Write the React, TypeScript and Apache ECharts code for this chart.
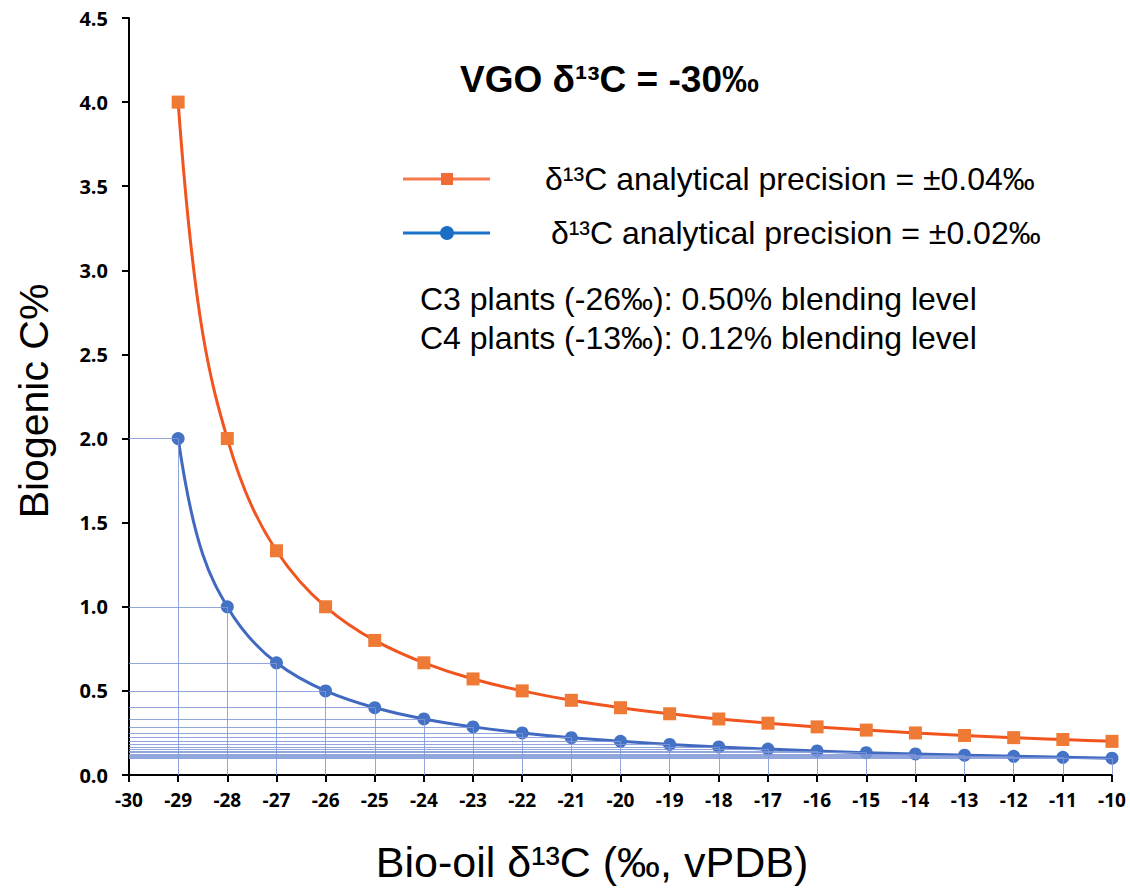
import React, { useEffect, useRef } from "react";
import * as echarts from "echarts";

const xValues = [-29, -28, -27, -26, -25, -24, -23, -22, -21, -20, -19, -18, -17, -16, -15, -14, -13, -12, -11, -10];
const precision004 = [4.0, 2.0, 1.333, 1.0, 0.8, 0.667, 0.571, 0.5, 0.444, 0.4, 0.364, 0.333, 0.308, 0.286, 0.267, 0.25, 0.235, 0.222, 0.211, 0.2];
const precision002 = [2.0, 1.0, 0.667, 0.5, 0.4, 0.333, 0.286, 0.25, 0.222, 0.2, 0.182, 0.167, 0.154, 0.143, 0.133, 0.125, 0.118, 0.111, 0.105, 0.1];

const xMin = -30;
const xMax = -10;
const yMin = 0;
const yMax = 4.5;

const titleText = "VGO δ¹³C = -30‰";
const legend1 = "δ¹³C analytical precision = ±0.04‰";
const legend2 = " δ¹³C analytical precision = ±0.02‰";
const note1 = "C3 plants (-26‰): 0.50% blending level";
const note2 = "C4 plants (-13‰): 0.12% blending level";
const xTitle = "Bio-oil δ¹³C (‰, vPDB)";
const yTitle = "Biogenic C%";

const ORANGE_LINE = "#F2541F";
const ORANGE_MARK = "#EE7A35";
const BLUE_LINE = "#4169C0";
const BLUE_MARK = "#4472C4";
const DROP = "#7F97D8";

// tangents for a smooth curve through the points (harmonic mean of neighbouring secants)
function tangents(xs: number[], ys: number[]): number[] {
  const n = xs.length;
  const d: number[] = [];
  for (let i = 0; i < n - 1; i++) d.push((ys[i + 1] - ys[i]) / (xs[i + 1] - xs[i]));
  const m: number[] = new Array(n).fill(0);
  for (let i = 1; i < n - 1; i++) {
    const a = d[i - 1];
    const b = d[i];
    m[i] = a * b > 0 ? (2 * a * b) / (a + b) : 0;
  }
  m[0] = m[1] !== 0 ? (d[0] * d[0]) / m[1] : d[0];
  m[n - 1] = m[n - 2] !== 0 ? (d[n - 2] * d[n - 2]) / m[n - 2] : d[n - 2];
  return m;
}

function curveSeries(ys: number[], color: string, z: number) {
  const m = tangents(xValues, ys);
  return {
    type: "custom",
    silent: true,
    z,
    data: xValues.map((x, i) => [x, ys[i]]),
    encode: { x: 0, y: 1 },
    renderItem: (params: any, api: any) => {
      const i = params.dataIndex;
      if (i >= xValues.length - 1) return null;
      const x0 = xValues[i];
      const x1 = xValues[i + 1];
      const h = x1 - x0;
      const p0 = api.coord([x0, ys[i]]);
      const c1 = api.coord([x0 + h / 3, ys[i] + (m[i] * h) / 3]);
      const c2 = api.coord([x1 - h / 3, ys[i + 1] - (m[i + 1] * h) / 3]);
      const p1 = api.coord([x1, ys[i + 1]]);
      return {
        type: "bezierCurve",
        shape: {
          x1: p0[0], y1: p0[1],
          cpx1: c1[0], cpy1: c1[1],
          cpx2: c2[0], cpy2: c2[1],
          x2: p1[0], y2: p1[1],
        },
        style: { stroke: color, lineWidth: 3, fill: "none", lineCap: "round" },
      };
    },
  };
}

export default function App() {
  const ref = useRef<HTMLDivElement>(null);

  useEffect(() => {
    document.body.style.margin = "0";
    if (!ref.current) return;
    const chart = echarts.init(ref.current, undefined, { renderer: "svg" });

    const orangeData = xValues.map((x, i) => [x, precision004[i]]);
    const blueData = xValues.map((x, i) => [x, precision002[i]]);
    const dropLines: any[] = [];
    xValues.forEach((x, i) => {
      const y = precision002[i];
      dropLines.push([{ coord: [xMin, y] }, { coord: [x, y] }]);
      dropLines.push([{ coord: [x, y] }, { coord: [x, yMin] }]);
    });

    const sans = "'Liberation Sans', Arial, sans-serif";

    chart.setOption({
      animation: false,
      backgroundColor: "#ffffff",
      grid: { left: 129, right: 18, top: 18, bottom: 120 },
      xAxis: {
        type: "value",
        min: xMin,
        max: xMax,
        interval: 1,
        splitLine: { show: false },
        axisLine: { show: true, onZero: false, lineStyle: { color: "#000", width: 2 } },
        axisTick: { show: true, length: 7, lineStyle: { color: "#000", width: 2 } },
        axisLabel: {
          margin: 15,
          color: "#000",
          formatter: (v: number) => `{t|${v}}`,
          rich: {
            t: { fontFamily: "Open Sans", fontWeight: "bold", fontSize: 19, color: "#000" },
          },
        },
      },
      yAxis: {
        type: "value",
        min: yMin,
        max: yMax,
        interval: 0.5,
        splitLine: { show: false },
        axisLine: { show: true, lineStyle: { color: "#000", width: 2 } },
        axisTick: { show: true, length: 7, lineStyle: { color: "#000", width: 2 } },
        axisLabel: {
          margin: 21,
          color: "#000",
          formatter: (v: number) => `{t|${v.toFixed(1)}}`,
          rich: {
            t: { fontFamily: "Open Sans", fontWeight: "bold", fontSize: 20, color: "#000" },
          },
        },
      },
      series: [
        {
          name: "drops",
          type: "scatter",
          data: [],
          silent: true,
          z: 1,
          markLine: {
            silent: true,
            symbol: ["none", "none"],
            label: { show: false },
            emphasis: { disabled: true },
            lineStyle: { color: DROP, width: 1, type: "solid", opacity: 0.85 },
            data: dropLines,
          },
        },
        curveSeries(precision002, BLUE_LINE, 2),
        curveSeries(precision004, ORANGE_LINE, 3),
        {
          name: legend2,
          type: "scatter",
          data: blueData,
          symbol: "circle",
          symbolSize: 13,
          itemStyle: { color: BLUE_MARK, opacity: 1 },
          z: 4,
        },
        {
          name: legend1,
          type: "scatter",
          data: orangeData,
          symbol: "rect",
          symbolSize: 13,
          itemStyle: { color: ORANGE_MARK, opacity: 1 },
          z: 5,
        },
      ],
      graphic: [
        {
          type: "text",
          left: 460,
          top: 61,
          style: { text: titleText, font: `bold 37px ${sans}`, fill: "#000" },
        },
        {
          type: "line",
          shape: { x1: 403, y1: 179, x2: 490, y2: 179 },
          style: { stroke: "#F47A4E", lineWidth: 3 },
        },
        {
          type: "rect",
          shape: { x: 441, y: 173, width: 12, height: 12 },
          style: { fill: "#F26A35" },
        },
        {
          type: "line",
          shape: { x1: 403, y1: 233, x2: 490, y2: 233 },
          style: { stroke: "#1A73C8", lineWidth: 3 },
        },
        {
          type: "circle",
          shape: { cx: 447, cy: 233, r: 7 },
          style: { fill: "#1A6FC4" },
        },
        {
          type: "text",
          x: 545,
          y: 179,
          style: { text: legend1, font: `32px ${sans}`, fill: "#000", verticalAlign: "middle" },
        },
        {
          type: "text",
          x: 542,
          y: 233,
          style: { text: legend2, font: `32px ${sans}`, fill: "#000", verticalAlign: "middle" },
        },
        {
          type: "text",
          x: 420,
          y: 299,
          style: { text: note1, font: `32px ${sans}`, fill: "#000", verticalAlign: "middle" },
        },
        {
          type: "text",
          x: 420,
          y: 338,
          style: { text: note2, font: `32px ${sans}`, fill: "#000", verticalAlign: "middle" },
        },
        {
          type: "text",
          x: 592,
          y: 862,
          style: { text: xTitle, font: `43px ${sans}`, fill: "#000", align: "center", verticalAlign: "middle" },
        },
        {
          type: "text",
          x: 34,
          y: 401,
          rotation: Math.PI / 2,
          style: { text: yTitle, font: `41px ${sans}`, fill: "#000", align: "center", verticalAlign: "middle" },
        },
      ],
    });

    return () => chart.dispose();
  }, []);

  return <div ref={ref} style={{ width: 1130, height: 895 }} />;
}
